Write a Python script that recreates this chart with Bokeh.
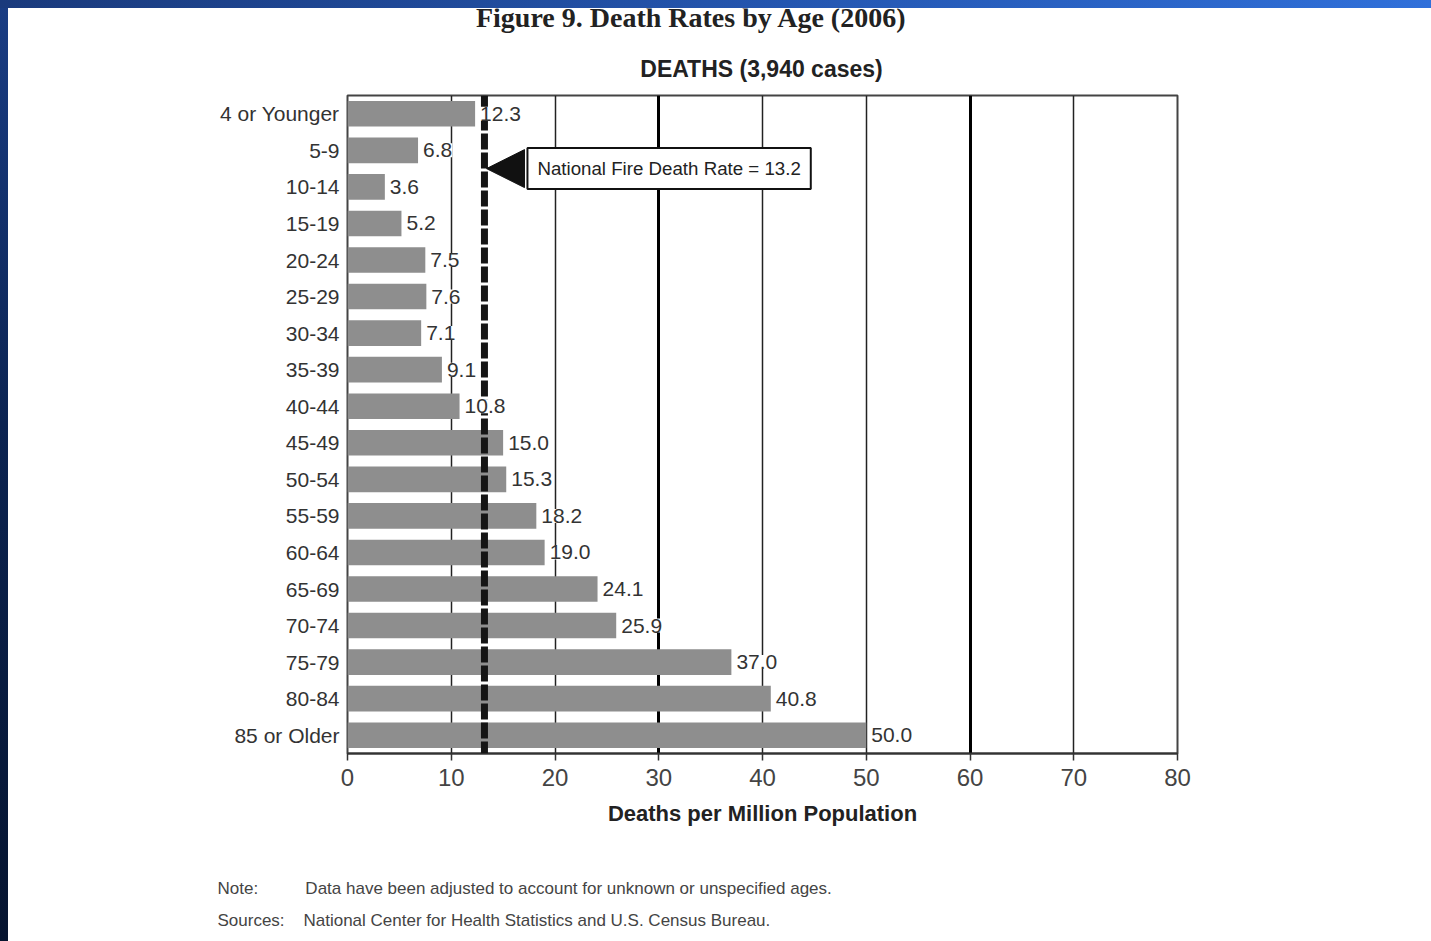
from bokeh.plotting import figure
from bokeh.models import (ColumnDataSource, FactorRange, Range1d, FixedTicker, Grid,
                          Span, Label, Arrow, NormalHead, Title)
from bokeh.layouts import column
from bokeh.embed import file_html
from bokeh.resources import INLINE

# Deaths per million population, by age group (2006)
ages = ["4 or Younger", "5-9", "10-14", "15-19", "20-24", "25-29", "30-34", "35-39",
        "40-44", "45-49", "50-54", "55-59", "60-64", "65-69", "70-74", "75-79",
        "80-84", "85 or Older"]
rates = [12.3, 6.8, 3.6, 5.2, 7.5, 7.6, 7.1, 9.1, 10.8, 15.0, 15.3, 18.2, 19.0,
         24.1, 25.9, 37.0, 40.8, 50.0]
national_rate = 13.2
x_ticks = [0, 10, 20, 30, 40, 50, 60, 70, 80]
thin_grid = [10, 20, 40, 50, 70]
thick_grid = [30, 60]

SANS = "Liberation Sans"
SERIF = "Liberation Serif"
W = 1423
NB = "\u00a0"

# ---- heading strip (its frame lines up with the chart frame below; x in page pixels)
head = figure(width=W, height=80, output_backend="svg", toolbar_location=None,
              x_range=Range1d(347, 1177), y_range=Range1d(80, 0),
              x_axis_location=None, y_axis_location=None,
              min_border=0, margin=(8, 0, 0, 8))
head.grid.visible = False
head.outline_line_color = None
head.border_fill_color = "white"
head.add_layout(Label(x=691, y=9, text="Figure 9. Death Rates by Age (2006)",
                      text_align="center", text_baseline="middle", text_font=SERIF,
                      text_font_style="bold", text_font_size="28px", text_color="#222222"))
head.add_layout(Label(x=761, y=60, text="DEATHS (3,940 cases)", text_align="center",
                      text_baseline="middle", text_font=SANS, text_font_style="bold",
                      text_font_size="23px", text_color="#222222"))

# ---- main chart
src = ColumnDataSource(dict(age=ages, rate=rates))

p = figure(width=W, height=853, output_backend="svg", toolbar_location=None,
           y_range=FactorRange(factors=ages[::-1]), x_range=Range1d(0, 80),
           min_border_left=339, min_border_right=254, min_border_top=7,
           min_border_bottom=188, margin=(0, 0, 0, 8))
p.background_fill_color = "white"
p.border_fill_color = "white"
p.outline_line_color = "#444444"
p.outline_line_width = 2

# grid: thin lines plus heavier lines at 30 and 60
p.ygrid.visible = False
p.xgrid.ticker = FixedTicker(ticks=thin_grid)
p.xgrid.grid_line_color = "#222222"
p.xgrid.grid_line_width = 1.5
p.add_layout(Grid(dimension=0, ticker=FixedTicker(ticks=thick_grid),
                  grid_line_color="#000000", grid_line_width=3))

p.hbar(y="age", right="rate", left=0, height=0.7, source=src,
       fill_color="#8e8e8e", line_color=None)

# axes
xa = p.xaxis[0]
xa.ticker = FixedTicker(ticks=x_ticks)
xa.minor_tick_line_color = None
xa.major_tick_in = 0
xa.major_tick_out = 7
xa.major_tick_line_color = "#333333"
xa.major_tick_line_width = 1.5
xa.axis_line_color = "#333333"
xa.axis_line_width = 2
xa.major_label_text_font = SANS
xa.major_label_text_font_size = "24px"
xa.major_label_text_color = "#444444"
xa.major_label_standoff = 8
xa.axis_label = "Deaths per Million Population"
xa.axis_label_text_font = SANS
xa.axis_label_text_font_style = "bold"
xa.axis_label_text_font_size = "22px"
xa.axis_label_text_color = "#222222"
xa.axis_label_standoff = 12

ya = p.yaxis[0]
ya.axis_line_color = None
ya.major_tick_line_color = None
ya.minor_tick_line_color = None
ya.major_label_text_font = SANS
ya.major_label_text_font_size = "21px"
ya.major_label_text_color = "#333333"
ya.major_label_standoff = 2

# national average reference line
p.add_layout(Span(location=national_rate, dimension="height", line_color="#151515",
                  line_width=7, line_dash="16 3"))

# value labels at bar ends (white backing hides the lines behind them)
n = len(ages)
for i, (age, r) in enumerate(zip(ages, rates)):
    p.add_layout(Label(x=r, y=n - i - 0.5, x_offset=5, text=f"{r:.1f}",
                       text_baseline="middle", text_align="left", text_font=SANS,
                       text_font_size="21px", text_color="#333333",
                       background_fill_color="white"))

# callout pointing at the national rate
p.add_layout(Arrow(x_start=national_rate + 4, x_end=national_rate + 0.2, y_start=16.0, y_end=16.0,
                   line_alpha=0,
                   end=NormalHead(size=38, fill_color="#111111", line_color="#111111")))
p.add_layout(Label(x=national_rate, y=16.0, x_offset=43,
                   text=f"National Fire Death Rate = {national_rate}",
                   text_baseline="middle", text_align="left", text_font=SANS,
                   text_font_size="18.7px", text_color="#222222",
                   background_fill_color="white", border_line_color="#111111",
                   border_line_width=2, padding=10))

# footnotes under the axis
p.add_layout(Title(text=NB + "\n" + NB + "\n"
                        "Note:" + NB * 10 + "Data have been adjusted to account for unknown or unspecified ages.\n"
                        "Sources:" + NB * 4 + "National Center for Health Statistics and U.S. Census Bureau.",
                   align="left", offset=-130, standoff=-30, text_font=SANS, text_font_style="normal",
                   text_font_size="17px", text_color="#444444", text_line_height=1.685), "below")

page = column(head, p, spacing=0, styles={
    "background": "linear-gradient(to right, #1a3a7c, #2456b0 55%, #3070da) top left / 100% 8px no-repeat, "
                  "linear-gradient(to bottom, #1a3d84, #0c2452 45%, #06142f) top left / 8px 100% no-repeat, "
                  "#ffffff"})

open("out.html", "w").write(file_html(page, INLINE))
